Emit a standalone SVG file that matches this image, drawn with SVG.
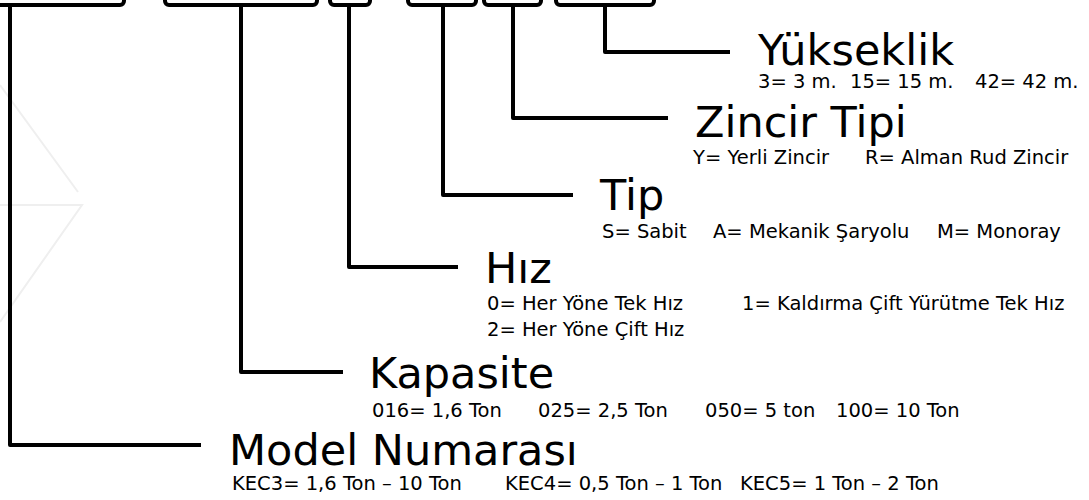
<svg xmlns="http://www.w3.org/2000/svg" width="1089" height="500" viewBox="0 0 1089 500">
<style>
.box{fill:none;stroke:#000;stroke-width:4}
.con{fill:none;stroke:#000;stroke-width:4;stroke-linejoin:round;stroke-linecap:butt}
.wm{fill:none;stroke:#efefef;stroke-width:2}
.t{font-family:"DejaVu Sans",sans-serif;font-size:43px;fill:#000}
.s{font-family:"DejaVu Sans",sans-serif;font-size:19.5px;fill:#000}
</style>
<rect width="1089" height="500" fill="#fff"/>
<g id="watermark">
<polyline class="wm" points="0,85 78,192"/>
<polyline class="wm" points="0,205 82,205 0,322"/>
</g>
<g id="connectors">
<polyline class="con" points="10,7 10,445 201,445"/>
<polyline class="con" points="241,7 241,372 343,372"/>
<polyline class="con" points="349,7 349,267 458,267"/>
<polyline class="con" points="443,7 443,195 573,195"/>
<polyline class="con" points="513,7 513,118 668,118"/>
<polyline class="con" points="605,7 605,52 730,52"/>
</g>
<g id="box-model"><rect class="box" x="-30" y="-40" width="154" height="45" rx="4"/></g>
<g id="box-kapasite"><rect class="box" x="165" y="-40" width="152" height="45" rx="4"/></g>
<g id="box-hiz"><rect class="box" x="330" y="-40" width="40" height="45" rx="4"/></g>
<g id="box-tip"><rect class="box" x="408" y="-40" width="68" height="45" rx="4"/></g>
<g id="box-zincir"><rect class="box" x="484" y="-40" width="57" height="45" rx="4"/></g>
<g id="box-yukseklik"><rect class="box" x="556" y="-40" width="98" height="45" rx="4"/></g>
<g id="label-yukseklik">
<text class="t" x="758" y="65">Yükseklik</text>
<text class="s" y="88"><tspan x="758">3= 3 m.</tspan><tspan x="850">15= 15 m.</tspan><tspan x="975">42= 42 m.</tspan></text>
</g>
<g id="label-zincir">
<text class="t" x="695" y="137">Zincir Tipi</text>
<text class="s" y="164"><tspan x="693">Y= Yerli Zincir</tspan><tspan x="865">R= Alman Rud Zincir</tspan></text>
</g>
<g id="label-tip">
<text class="t" x="600" y="210">Tip</text>
<text class="s" y="238"><tspan x="602">S= Sabit</tspan><tspan x="713">A= Mekanik Şaryolu</tspan><tspan x="937">M= Monoray</tspan></text>
</g>
<g id="label-hiz">
<text class="t" x="485" y="283">Hız</text>
<text class="s" y="310"><tspan x="487">0= Her Yöne Tek Hız</tspan><tspan x="742">1= Kaldırma Çift Yürütme Tek Hız</tspan></text>
<text class="s" x="487" y="336">2= Her Yöne Çift Hız</text>
</g>
<g id="label-kapasite">
<text class="t" x="369" y="388">Kapasite</text>
<text class="s" y="417"><tspan x="372">016= 1,6 Ton</tspan><tspan x="538">025= 2,5 Ton</tspan><tspan x="705">050= 5 ton</tspan><tspan x="836">100= 10 Ton</tspan></text>
</g>
<g id="label-model">
<text class="t" x="229" y="465">Model Numarası</text>
<text class="s" y="490"><tspan x="232">KEC3= 1,6 Ton – 10 Ton</tspan><tspan x="505">KEC4= 0,5 Ton – 1 Ton</tspan><tspan x="740">KEC5= 1 Ton – 2 Ton</tspan></text>
</g>
</svg>
